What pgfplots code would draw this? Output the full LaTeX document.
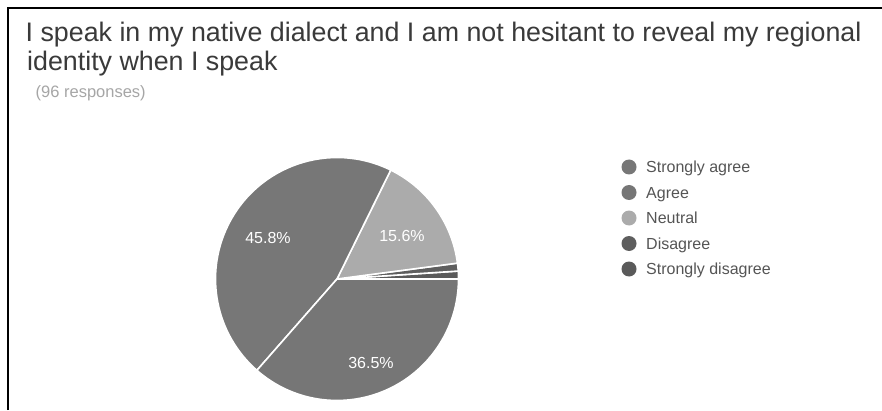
\documentclass[border=0pt]{standalone}
\usepackage{pgfplots}
\pgfplotsset{compat=1.18}
\usepackage{pgfplotstable}
\usepackage{fontspec}
\setmainfont{Liberation Sans}
\definecolor{titlecol}{HTML}{3A3A3A}
\definecolor{subcol}{HTML}{A6A6A6}
\definecolor{legcol}{HTML}{555555}
\definecolor{sacol}{HTML}{777777}
\definecolor{acol}{HTML}{767676}
\definecolor{ncol}{HTML}{ABABAB}
\definecolor{dcol}{HTML}{5E5E5E}
\definecolor{sdcol}{HTML}{5A5A5A}
% slices in counter-clockwise order starting at 0 degrees
\pgfplotstableread{
name value col
SD 1 sdcol
D 1 dcol
N 15 ncol
SA 44 sacol
A 35 acol
}\piedata
\begin{document}
\begin{tikzpicture}[x=1pt,y=1pt]
\useasboundingbox (0,0) rectangle (882,410);
\fill[white] (0,0) rectangle (882,410);
\draw[line width=2.2pt] (8,0) -- (8,402) -- (882,402);
% title
\node[anchor=base west, inner sep=0pt, text=titlecol, font=\fontsize{26.8}{30}\selectfont] at (25.5,368) {I speak in my native dialect and I am not hesitant to reveal my regional};
\node[anchor=base west, inner sep=0pt, text=titlecol, font=\fontsize{26.8}{30}\selectfont] at (27,339) {identity when I speak};
\node[anchor=base west, inner sep=0pt, text=subcol, font=\fontsize{16.5}{19}\selectfont] at (35.5,312.3) {(96 responses)};
% angles from data
\pgfplotstablegetrowsof{\piedata}
\pgfmathtruncatemacro\lastrow{\pgfplotsretval-1}
\gdef\total{0}
\foreach \i in {0,...,\lastrow}{%
  \pgfplotstablegetelem{\i}{value}\of\piedata
  \pgfmathsetmacro\t{\total+\pgfplotsretval}\xdef\total{\t}}
\gdef\cum{0}
\foreach \i in {0,...,\lastrow}{%
  \pgfplotstablegetelem{\i}{value}\of\piedata
  \pgfmathsetmacro\b{\cum+360*\pgfplotsretval/\total}%
  \expandafter\xdef\csname sA\i\endcsname{\cum}%
  \expandafter\xdef\csname sB\i\endcsname{\b}%
  \pgfplotstablegetelem{\i}{col}\of\piedata
  \expandafter\xdef\csname sC\i\endcsname{\pgfplotsretval}%
  \xdef\cum{\b}}
\begin{axis}[at={(337pt,131pt)}, anchor=center, hide axis, scale only axis,
  width=243pt, height=243pt, xmin=-1, xmax=1, ymin=-1, ymax=1, clip=false]
\pgfplotsinvokeforeach{0,...,4}{%
  \edef\temp{\noexpand\fill[\csname sC#1\endcsname, draw=white, line width=1.6pt, line join=round]
    (axis cs:0,0) -- (axis cs:{cos(\csname sA#1\endcsname)},{sin(\csname sA#1\endcsname)})
    arc[start angle=\csname sA#1\endcsname, end angle=\csname sB#1\endcsname, radius=121.5pt] -- cycle;}%
  \temp}
\node[text=white, font=\fontsize{16}{19}\selectfont] at (axis cs:-0.568,0.337) {45.8\%};
\node[text=white, font=\fontsize{16}{19}\selectfont] at (axis cs:0.535,0.354) {15.6\%};
\node[text=white, font=\fontsize{16}{19}\selectfont] at (axis cs:0.280,-0.691) {36.5\%};
\end{axis}
% legend
\foreach \y/\c/\t in {243/sacol/Strongly agree, 217.5/acol/Agree, 192/ncol/Neutral, 166.5/dcol/Disagree, 141/sdcol/Strongly disagree}{%
  \fill[\c] (629,\y) circle[radius=7.5];
  \node[anchor=base west, inner sep=0pt, text=legcol, font=\fontsize{16}{19}\selectfont] at (646,\y-5.7) {\t};
}
\end{tikzpicture}
\end{document}
